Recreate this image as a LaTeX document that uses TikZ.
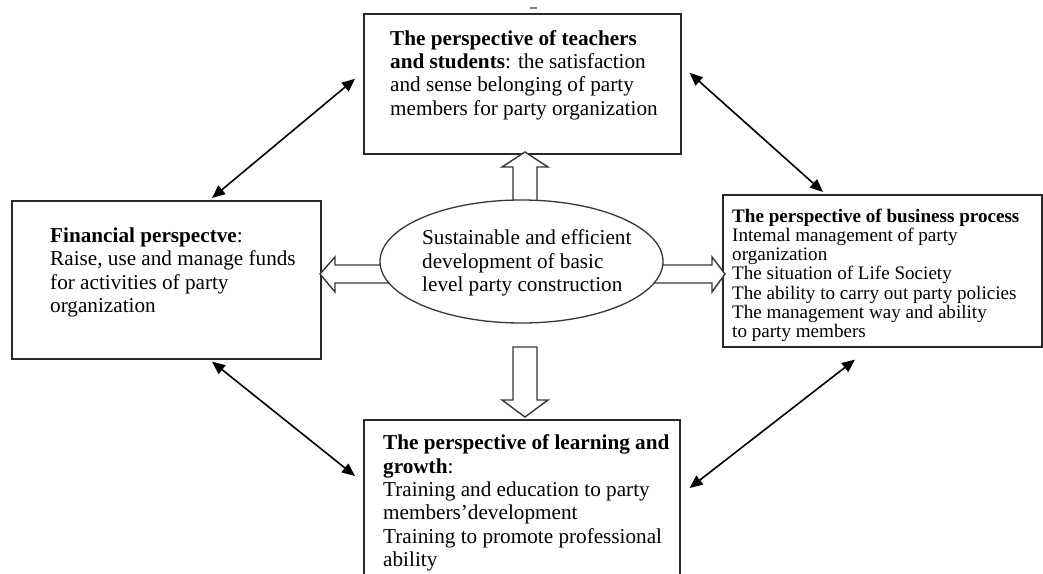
\documentclass[tikz,border=0pt]{standalone}
\usepackage{fontspec}
\setmainfont{Liberation Serif}
\usetikzlibrary{arrows.meta,calc,shapes.geometric}
\definecolor{boxgray}{RGB}{40,40,40}
\definecolor{linegray}{RGB}{55,55,55}
\begin{document}
\begin{tikzpicture}[x=1pt,y=-1pt,
  box/.style={draw=boxgray,line width=1.6pt,anchor=north west,inner sep=0pt,fill=white},
  txt/.style={anchor=north west,inner sep=0pt,align=left,font=\fontsize{21.2}{23.4}\selectfont},
  txtsmall/.style={anchor=north west,inner sep=0pt,align=left,font=\fontsize{19.1}{19.2}\selectfont},
  blockarrow/.style={draw=linegray,line width=1.4pt,fill=white,line join=miter},
  dbl/.style={{Triangle[length=13pt,width=11pt]}-{Triangle[length=13pt,width=11pt]},line width=1.6pt,draw=black}]
\useasboundingbox (0,0) rectangle (1043,573);
\clip (0,0) rectangle (1043,573);
\fill[white] (0,0) rectangle (1043,573);

% boxes
\node[box,minimum width=317pt,minimum height=140pt] (T) at (363,13) {};
\node[box,minimum width=309pt,minimum height=158pt] (L) at (11,200) {};
\node[box,minimum width=319pt,minimum height=152pt] (R) at (722,194) {};
\node[box,minimum width=316pt,minimum height=200pt] (B) at (363,419) {};

% small mark at top
\draw[gray,line width=1.2pt] (530,8) -- (537,8);

% block arrows
\draw[blockarrow] (513,215) -- (513,167) -- (502,167) -- (525,152) -- (548,167) -- (537,167) -- (537,215);
\draw[blockarrow] (513,347) -- (537,347) -- (537,400) -- (548,400) -- (525,417) -- (502,400) -- (513,400) -- cycle;
\draw[blockarrow] (400,265) -- (335,265) -- (335,257) -- (320,274) -- (335,292) -- (335,283) -- (400,283);
\draw[blockarrow] (645,265) -- (712,265) -- (712,257) -- (725,274) -- (712,292) -- (712,283) -- (645,283);

% central ellipse
\node[ellipse,draw=linegray,line width=1.3pt,fill=white,minimum width=283pt,minimum height=123pt,inner sep=0pt] (E) at (521.5,261.5) {};

% texts
\node[txt] (Ttext) at (390,30) {\textbf{The perspective of teachers}\\\textbf{and students}: the satisfaction\\and sense belonging of party\\members for party organization};
\node[txt] (Ltext) at (50,227.5) {\textbf{Financial perspectve}:\\Raise, use and manage funds\\for activities of party\\organization};
\node[txtsmall] (Rtext) at (732,208.6) {\textbf{The perspective of business process}\\Intemal management of party\\organization\\The situation of Life Society\\The ability to carry out party policies\\The management way and ability\\to party members};
\node[txt] (Btext) at (383,434.5) {\textbf{The perspective of learning and}\\\textbf{growth}:\\Training and education to party\\members’development\\Training to promote professional\\ability};
\node[txt] (Etext) at (422,229.5) {Sustainable and efficient\\development of basic\\level party construction};

% double-headed connectors
\draw[dbl] ($(L.north west)+(201,-2)$) -- ($(T.west)+(-8,-5)$);
\draw[dbl] ($(T.east)+(8,-11)$) -- ($(R.north west)+(101,-2)$);
\draw[dbl] ($(L.south west)+(201,2)$) -- ($(B.north west)+(-8,57)$);
\draw[dbl] ($(R.south west)+(133,12)$) -- ($(B.north east)+(9,69)$);
\end{tikzpicture}
\end{document}
